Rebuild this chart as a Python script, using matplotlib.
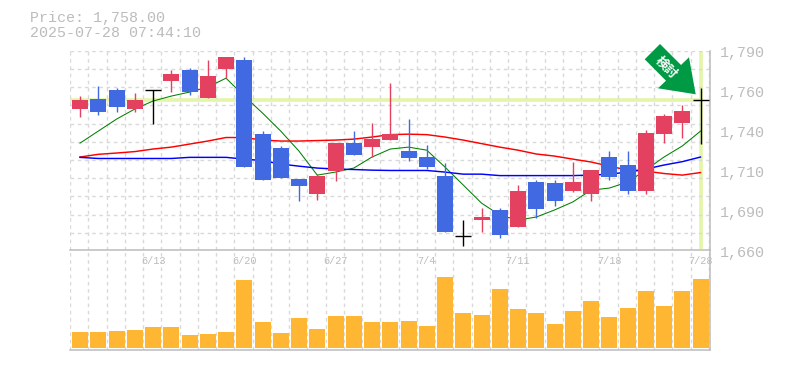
import matplotlib
matplotlib.use("Agg")
import matplotlib.pyplot as plt
from matplotlib.patches import Polygon, Rectangle

W, H = 785, 370

title_price = "Price: 1,758.00"
title_time = "2025-07-28 07:44:10"

opens = [1752.1, 1758.3, 1763.9, 1752.1, 1763.9, 1769.6, 1776.4, 1758.9, 1777.1, 1782.7,
         1736.4, 1727.7, 1708.3, 1698.9, 1713.3, 1730.8, 1728.3, 1732.7, 1725.8, 1722.1,
         1710.2, 1672.7, 1682.7, 1688.9, 1678.3, 1706.4, 1705.8, 1700.8, 1698.9, 1722.1,
         1717.1, 1700.8, 1736.4, 1743.3, 1758.0]
highs = [1760.2, 1766.4, 1765.2, 1762.1, 1763.9, 1776.4, 1777.7, 1782.7, 1784.6, 1784.6,
         1738.3, 1728.9, 1708.3, 1711.4, 1730.8, 1738.3, 1743.3, 1768.3, 1745.8, 1729.6,
         1718.3, 1682.7, 1690.2, 1690.2, 1704.6, 1707.7, 1707.7, 1718.9, 1714.0, 1725.8,
         1725.8, 1738.9, 1748.9, 1754.6, 1765.2]
lows = [1747.1, 1748.3, 1750.2, 1750.2, 1742.7, 1762.7, 1760.8, 1758.9, 1771.4, 1715.8,
        1707.7, 1708.9, 1694.6, 1695.2, 1707.1, 1723.3, 1722.1, 1732.7, 1719.6, 1714.6,
        1675.2, 1666.4, 1675.2, 1671.4, 1678.3, 1683.9, 1691.4, 1700.2, 1694.6, 1707.7,
        1698.9, 1698.9, 1730.8, 1733.9, 1730.2]
closes = [1757.7, 1750.2, 1753.3, 1757.7, 1763.9, 1773.9, 1762.7, 1772.7, 1784.6, 1715.8,
          1707.7, 1708.9, 1704.0, 1710.2, 1730.8, 1723.3, 1733.3, 1736.4, 1721.4, 1715.8,
          1675.2, 1672.7, 1684.6, 1673.3, 1700.8, 1689.6, 1694.6, 1706.4, 1714.0, 1709.6,
          1700.8, 1737.1, 1747.7, 1750.8, 1758.0]

ma_green = [1730.8, 1738.3, 1745.8, 1752.1, 1757.1, 1760.2, 1762.7, 1765.8, 1771.4, 1760.2,
            1749.6, 1738.3, 1725.8, 1710.8, 1712.7, 1715.2, 1722.1, 1727.1, 1728.3, 1726.4,
            1715.8, 1704.6, 1693.3, 1685.8, 1682.7, 1684.6, 1689.0, 1694.0, 1701.4, 1702.7,
            1706.4, 1714.0, 1722.1, 1729.0, 1738.3]
ma_red = [1722.1, 1723.8, 1724.6, 1725.5, 1727.1, 1728.3, 1730.2, 1732.1, 1734.3, 1734.3,
          1732.7, 1732.1, 1732.1, 1732.4, 1732.7, 1733.3, 1734.6, 1736.1, 1736.4, 1736.1,
          1734.6, 1732.7, 1730.5, 1728.3, 1726.4, 1724.0, 1722.7, 1720.8, 1719.0, 1716.4,
          1714.0, 1713.3, 1711.8, 1710.8, 1712.4]
ma_blue = [1721.9, 1721.2, 1721.2, 1721.2, 1721.2, 1721.2, 1721.9, 1721.9, 1721.9, 1720.8,
           1719.9, 1717.7, 1716.4, 1715.2, 1714.6, 1714.3, 1713.9, 1713.7, 1713.7, 1713.7,
           1712.7, 1711.4, 1711.4, 1710.5, 1710.5, 1710.5, 1710.5, 1710.5, 1710.8, 1711.4,
           1712.7, 1714.6, 1717.1, 1719.2, 1722.1]

volumes = [16, 16, 17, 18, 21, 21, 13, 14, 16, 68, 26, 15, 30, 19, 32, 32, 26, 26, 27, 22,
           71, 35, 33, 59, 39, 35, 24, 37, 47, 31, 40, 57, 42, 57, 69]

date_labels = ["6/13", "6/20", "6/27", "7/4", "7/11", "7/18", "7/28"]
date_slots = [4, 9, 14, 19, 24, 29, 34]
price_ticks = [1788, 1763, 1738, 1713, 1688, 1663]
price_tick_labels = ["1,790", "1,760", "1,740", "1,710", "1,690", "1,660"]
last_price = 1758.0

GRAY = "#bcbcbc"
RED = "#e4405f"
BLUE = "#4169e1"
LIME = "#e3f5a8"
GREEN = "#009944"
MONO = "Liberation Mono"

fig = plt.figure(figsize=(W / 100, H / 100), dpi=100)


def rect(x0, y0, x1, y1):
    return [x0 / W, 1 - y1 / H, (x1 - x0) / W, (y1 - y0) / H]


ax = fig.add_axes(rect(70, 50.5, 710, 250.3))
axv = fig.add_axes(rect(70, 250.3, 710, 350.3))

xlim = (-0.548, 34.52)
slots = list(range(len(closes)))
ax.set_xlim(*xlim)
ax.set_ylim(1663.8, 1788.7)
axv.set_xlim(*xlim)
axv.set_ylim(-2.3, 97.7)

for a in (ax, axv):
    a.set_facecolor("none")
    a.set_xticks([k - 0.548 for k in range(36)])
    a.set_xticklabels([])
    a.grid(True, axis="x", color="#d9d9d9", lw=1.0, ls=(0, (2.6, 2.6)), zorder=0)
    a.tick_params(length=0)
    for side in ("top", "left"):
        a.spines[side].set_visible(False)
    for side in ("bottom", "right"):
        a.spines[side].set_color(GRAY)
        a.spines[side].set_linewidth(1.1)

ax.spines["bottom"].set_visible(True)
ax.set_yticks([1788.5 - k * 11.375 for k in range(11)])
ax.set_yticklabels([])
ax.grid(True, axis="y", color="#d9d9d9", lw=1.0, ls=(0, (2.6, 2.6)), zorder=0)
axv.set_yticks([])

# current price guides
ax.axhline(last_price, xmin=0, xmax=(34 - xlim[0]) / (xlim[1] - xlim[0]), color=LIME, lw=2.6, zorder=1)
ax.plot([34, 34], [1664.5, 1788.5], color=LIME, lw=2.6, zorder=1, solid_capstyle="butt")

# moving averages
ax.plot(slots, ma_green, color="#008000", lw=0.75, zorder=2)
ax.plot(slots, ma_red, color="#ff0000", lw=1.05, zorder=2)
ax.plot(slots, ma_blue, color="#0000ff", lw=1.05, zorder=2)

# candles
BODY = 16 / 18.25
for i, (o, h, l, c) in enumerate(zip(opens, highs, lows, closes)):
    if c == o:
        ax.plot([i, i], [l, h], color="black", lw=1.0, zorder=4, solid_capstyle="butt")
        ax.plot([i - BODY / 2, i + BODY / 2], [c, c], color="black", lw=1.0, zorder=4, solid_capstyle="butt")
        continue
    col = RED if c > o else BLUE
    ax.plot([i, i], [l, h], color=col, lw=1.0, zorder=3, solid_capstyle="butt")
    ax.add_patch(Rectangle((i - BODY / 2, min(o, c)), BODY, abs(c - o), facecolor=col, edgecolor="none", zorder=3))

# volume
axv.bar(slots, volumes, width=BODY, color="#ffb733", zorder=2)


def fx(x):
    return x / W


def fy(y):
    return 1 - y / H


# price labels, centred a little below each tick
for p, s in zip(price_ticks, price_tick_labels):
    y_px = 99.5 - (p - last_price) * 1.6
    fig.text(fx(720), fy(y_px + 2), s, color=GRAY, family=MONO, size=10.8, ha="left", va="center")

for slot, s in zip(date_slots, date_labels):
    x_px = 80 + 18.25 * slot
    fig.text(fx(x_px), fy(261.5), s, color=GRAY, family=MONO, size=7.4, ha="center", va="center")

fig.text(fx(30), fy(18), title_price, color=GRAY, family=MONO, size=10.8, ha="left", va="center")
fig.text(fx(30), fy(33), title_time, color=GRAY, family=MONO, size=10.8, ha="left", va="center")

# signal arrow
arrow = [(660, 44), (644.7, 59.3), (666, 80.7), (658, 88.3), (695.7, 94.3), (689, 57.3), (681, 65)]
fig.add_artist(Polygon([(fx(x), fy(y)) for x, y in arrow], closed=True, transform=fig.transFigure,
                       facecolor=GREEN, edgecolor="none", zorder=10))
t = fig.text(fx(665.5), fy(68), "検討", color="white", family=["Noto Sans CJK JP", "DejaVu Sans"],
             size=9.2, weight="bold", rotation=-45, ha="center", va="center", rotation_mode="anchor", zorder=11)

fig.savefig("out.png", dpi=100, facecolor="white")
